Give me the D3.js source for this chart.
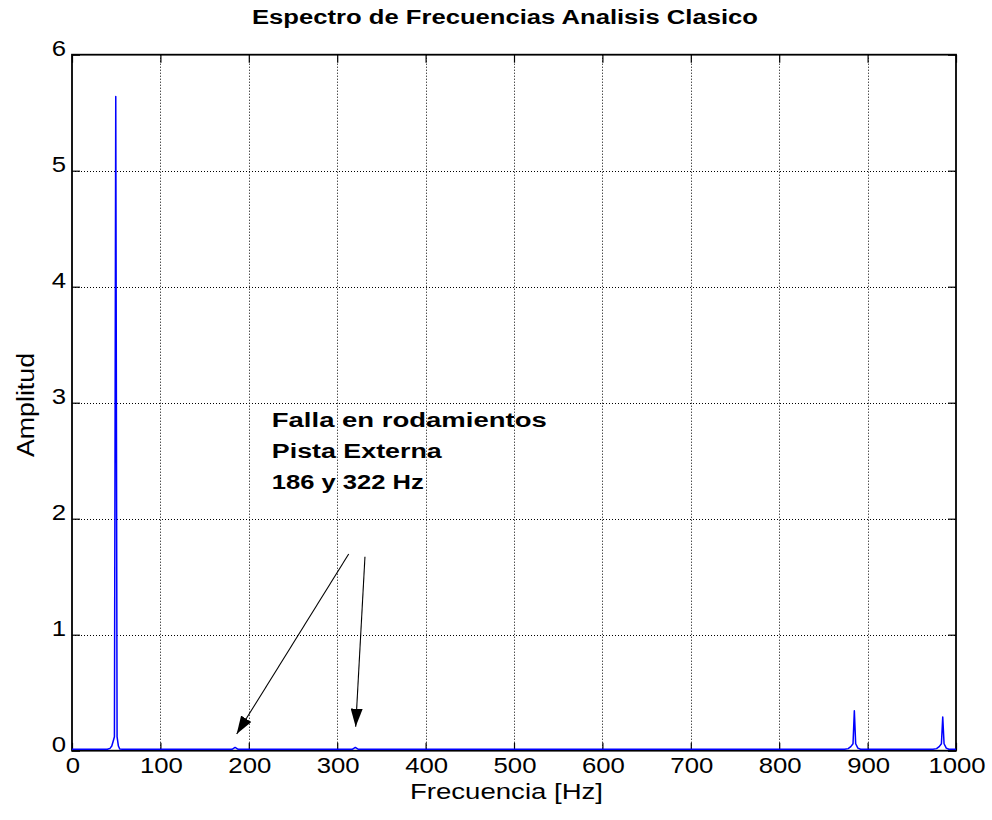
<!DOCTYPE html>
<html>
<head>
<meta charset="utf-8">
<script src="https://cdn.jsdelivr.net/npm/d3@7/dist/d3.min.js"></script>
<style>
html,body{margin:0;padding:0;background:#fff;}
svg{display:block;}
text{font-family:"Liberation Sans", Arial, sans-serif;fill:#000;}
</style>
</head>
<body>
<svg id="chart" width="992" height="820"></svg>
<script>
// ---- data ----
const freq = [0, 40, 43, 45, 46.5, 48, 49.5, 51, 52.5, 54, 57,
              181, 184.5, 188, 317, 320.5, 324,
              874, 878, 881, 883.5, 885, 886.5, 889, 892,
              974, 978, 981, 983.5, 985, 986.5, 989, 992, 1000];
const amp  = [0.012, 0.012, 0.02, 0.04, 0.08, 0.12, 5.64, 0.12, 0.04, 0.015, 0.012,
              0.012, 0.028, 0.012, 0.012, 0.028, 0.012,
              0.012, 0.018, 0.035, 0.06, 0.345, 0.06, 0.022, 0.012,
              0.012, 0.018, 0.035, 0.06, 0.29, 0.06, 0.022, 0.012, 0.012];
const xTicks = [0, 100, 200, 300, 400, 500, 600, 700, 800, 900, 1000];
const yTicks = [0, 1, 2, 3, 4, 5, 6];
const titleText = "Espectro de Frecuencias Analisis Clasico";
const xLabel = "Frecuencia [Hz]";
const yLabel = "Amplitud";
const noteLines = ["Falla en rodamientos", "Pista Externa", "186 y 322 Hz"];
const noteAnchor = {f: 226, a: 2.79};
const arrows = [
  {f0: 313, a0: 1.695, f1: 186.3, a1: 0.144},
  {f0: 331.4, a0: 1.672, f1: 320.9, a1: 0.207}
];

// ---- layout ----
const L = 72, R = 956, T = 54.7, B = 750.7;
const svg = d3.select("#chart");
const x = d3.scaleLinear().domain([0, 1000]).range([L, R]);
const y = d3.scaleLinear().domain([0, 6]).range([B, T]);

// grid
const grid = svg.append("g").attr("stroke", "#000").attr("stroke-width", 1).attr("stroke-dasharray", "1,2");
grid.selectAll("line.gx").data(xTicks.slice(1, -1)).enter().append("line")
  .attr("x1", d => Math.round(x(d)) + 0.5).attr("x2", d => Math.round(x(d)) + 0.5)
  .attr("y1", T).attr("y2", B);
grid.selectAll("line.gy").data(yTicks.slice(1, -1)).enter().append("line")
  .attr("y1", d => Math.round(y(d)) + 0.5).attr("y2", d => Math.round(y(d)) + 0.5)
  .attr("x1", L).attr("x2", R);

// axes (inward ticks on all sides)
const tk = 8;
const axB = d3.axisBottom(x).tickValues(xTicks).tickSizeInner(-tk).tickSizeOuter(0).tickFormat("");
const axT = d3.axisTop(x).tickValues(xTicks).tickSizeInner(-tk).tickSizeOuter(0).tickFormat("");
const axLft = d3.axisLeft(y).tickValues(yTicks).tickSizeInner(-tk).tickSizeOuter(0).tickFormat("");
const axRgt = d3.axisRight(y).tickValues(yTicks).tickSizeInner(-tk).tickSizeOuter(0).tickFormat("");
[[axB, `translate(0,${B})`], [axT, `translate(0,${T})`], [axLft, `translate(${L},0)`], [axRgt, `translate(${R},0)`]]
  .forEach(([a, t]) => {
    const g = svg.append("g").attr("transform", t).call(a);
    g.selectAll(".tick line").attr("stroke", "#000").attr("stroke-width", 1.2);
    g.select(".domain").remove();
  });
svg.append("rect").attr("x", L).attr("y", T).attr("width", R - L).attr("height", B - T)
  .attr("fill", "none").attr("stroke", "#000").attr("stroke-width", 1.8);

// spectrum line
const line = d3.line().x((d, i) => x(freq[i])).y(d => y(d));
svg.append("path").datum(amp)
  .attr("fill", "none").attr("stroke", "#0000ff").attr("stroke-width", 1.5)
  .attr("stroke-linejoin", "round")
  .attr("d", line);

// tick labels
const sx = 1.17;
svg.append("g").selectAll("text").data(xTicks).enter().append("text")
  .attr("transform", d => `translate(${x(d) + 1},773) scale(${sx},1)`)
  .attr("text-anchor", "middle").attr("font-size", 22)
  .text(d => d);
svg.append("g").selectAll("text").data(yTicks).enter().append("text")
  .attr("transform", d => `translate(66,${y(d) + 1.5}) scale(${sx},1)`)
  .attr("text-anchor", "end").attr("font-size", 22)
  .text(d => d);

// title
svg.append("text").attr("x", 252).attr("y", 24)
  .attr("font-size", 19.5).attr("font-weight", "bold")
  .attr("textLength", 506).attr("lengthAdjust", "spacingAndGlyphs")
  .text(titleText);

// axis labels
svg.append("text").attr("x", 410).attr("y", 799)
  .attr("font-size", 22)
  .attr("textLength", 193).attr("lengthAdjust", "spacingAndGlyphs")
  .text(xLabel);
svg.append("text")
  .attr("transform", "translate(34,457) rotate(-90)")
  .attr("font-size", 23)
  .attr("textLength", 104).attr("lengthAdjust", "spacingAndGlyphs")
  .text(yLabel);

// annotation
const noteW = [275, 170, 152];
svg.append("g").selectAll("text").data(noteLines).enter().append("text")
  .attr("x", x(noteAnchor.f)).attr("y", (d, i) => y(noteAnchor.a) + i * 31.2)
  .attr("font-size", 19.5).attr("font-weight", "bold")
  .attr("textLength", (d, i) => noteW[i]).attr("lengthAdjust", "spacingAndGlyphs")
  .text(d => d);

// arrows
const defs = svg.append("defs");
defs.append("marker").attr("id", "ah")
  .attr("viewBox", "0 0 18 12").attr("refX", 18).attr("refY", 6)
  .attr("markerWidth", 18).attr("markerHeight", 12)
  .attr("markerUnits", "userSpaceOnUse").attr("orient", "auto")
  .append("path").attr("d", "M0,0 L18,6 L0,12 Z").attr("fill", "#000");
svg.append("g").selectAll("line").data(arrows).enter().append("line")
  .attr("x1", d => x(d.f0)).attr("y1", d => y(d.a0))
  .attr("x2", d => x(d.f1)).attr("y2", d => y(d.a1))
  .attr("stroke", "#000").attr("stroke-width", 1.1)
  .attr("marker-end", "url(#ah)");
</script>
</body>
</html>
